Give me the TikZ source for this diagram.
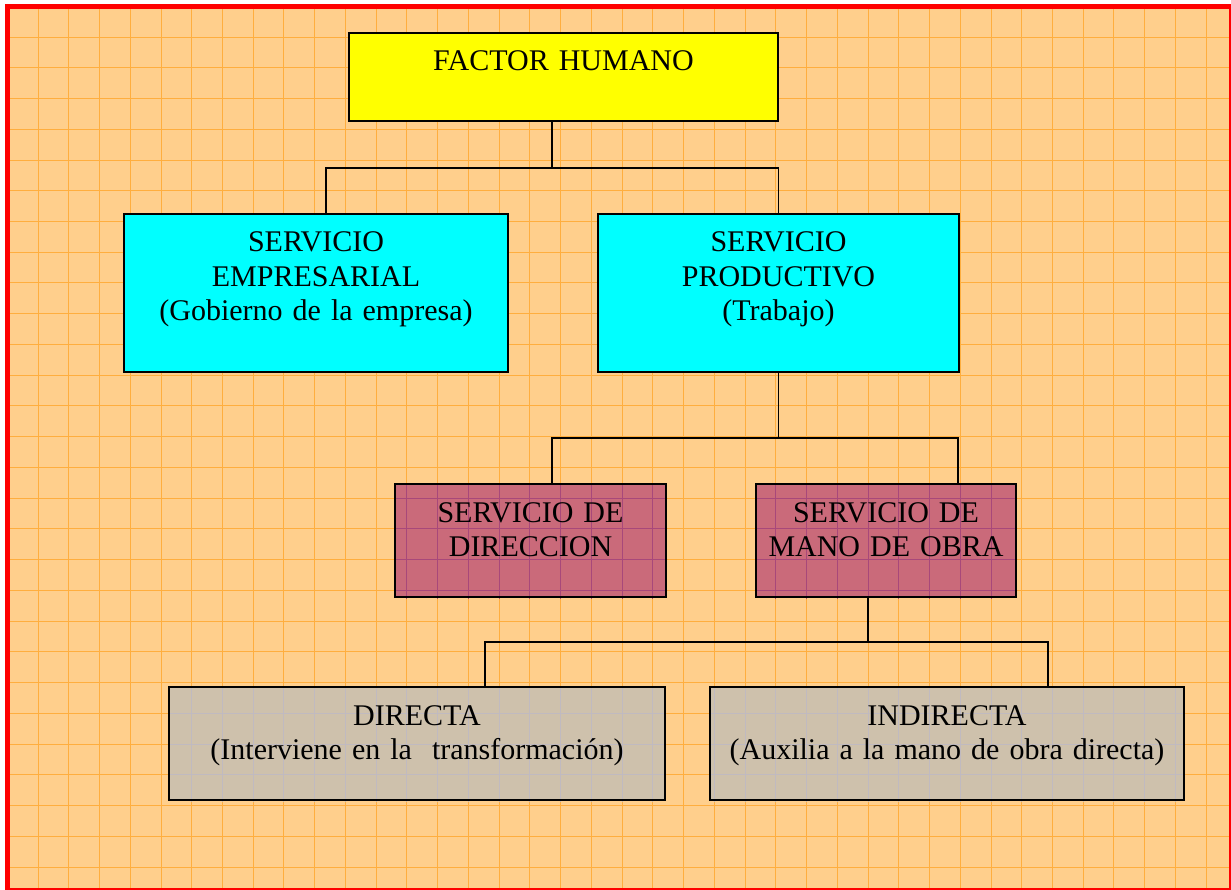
\documentclass[tikz,border=0pt]{standalone}
\usepackage{fontspec}
\setmainfont{Liberation Serif}
\usepackage{tikz}
\usetikzlibrary{positioning}
\pgfdeclarelayer{papel}
\pgfdeclarelayer{tinte}
\pgfsetlayers{papel,tinte,main}
\definecolor{fondo}{RGB}{255,207,140}
\definecolor{rejilla}{RGB}{255,174,62}
\definecolor{amarillo}{RGB}{255,255,0}
\definecolor{celeste}{RGB}{0,255,255}
\definecolor{rosado}{RGB}{202,106,122}
\definecolor{rejillarosa}{RGB}{168,72,122}
\definecolor{gris}{RGB}{206,193,172}
\definecolor{rejillagris}{RGB}{192,186,192}
% cuadricula del papel
\newcommand{\cuadricula}[1]{%
  \foreach \i in {0,...,38} \draw[#1, line width=0.9pt] ({38+\i*30.74},7) -- ({38+\i*30.74},890);
  \foreach \j in {0,...,27} \draw[#1, line width=0.9pt] (8,{37+\j*30.74}) -- (1231,{37+\j*30.74});
}
% relleno con cuadricula propia, debajo del texto
\newcommand{\rejillacaja}[3]{%
  \fill[#2] (#1.south west) rectangle (#1.north east);
  \begin{scope}
    \clip (#1.south west) rectangle (#1.north east);
    \cuadricula{#3}
  \end{scope}
}
\tikzstyle{caja} = [rectangle, 
draw=black, 
line width=2pt, 
inner sep=0pt, 
align=center, 
text height=38pt, 
font=\fontsize{30}{34.5}\selectfont]
\tikzstyle{titulo} = [caja, fill=amarillo, text depth=50pt]
\tikzstyle{servicio} = [caja, fill=celeste, text depth=120pt]
\tikzstyle{subservicio} = [caja, text depth=75pt]
\tikzstyle{manoobra} = [caja, text depth=75pt]
\tikzstyle{linea} = [line width=1.3pt, draw=black]

\begin{document}
\begin{tikzpicture}[x=1pt, y=-1pt]

    \useasboundingbox (0,0) rectangle (1231,890);
    \begin{pgfonlayer}{papel}
      \fill[fondo] (8,7) rectangle (1231,890);
      \cuadricula{rejilla}
      \draw[red, line width=5.5pt] (7.7,6.7) rectangle (1232,891);
    \end{pgfonlayer}

    \node (fh) [titulo, text width=429pt, anchor=north west] at (348,32) {FACTOR HUMANO};

    \node (se) [servicio, text width=384pt, anchor=north west] at (123,213) {SERVICIO\\EMPRESARIAL\\(Gobierno de la empresa)};
    \node (sp) [servicio, text width=361pt, anchor=north west] at (597,213) {SERVICIO\\PRODUCTIVO\\(Trabajo)};

    \node (dir) [subservicio, text width=271pt, anchor=north west] at (394,483) {SERVICIO DE\\DIRECCION};
    \node (mo) [subservicio, text width=260pt, anchor=north west] at (755,483) {SERVICIO DE\\MANO DE OBRA};

    \node (di) [manoobra, text width=496pt, anchor=north west] at (168,686) {DIRECTA\\(Interviene en la~ transformación)};
    \node (in) [manoobra, text width=474pt, anchor=north west] at (709,686) {INDIRECTA\\(Auxilia a la mano de obra directa)};

    \begin{pgfonlayer}{tinte}
      \rejillacaja{dir}{rosado}{rejillarosa}
      \rejillacaja{mo}{rosado}{rejillarosa}
      \rejillacaja{di}{gris}{rejillagris}
      \rejillacaja{in}{gris}{rejillagris}
    \end{pgfonlayer}

    % puntos de las ramas
    \coordinate (r1) at (552,168);
    \coordinate (r1i) at (326,168);
    \coordinate (r2i) at (552,438);
    \coordinate (r2d) at (958,438);
    \coordinate (r3) at (868,642);
    \coordinate (r3i) at (485,642);
    \coordinate (r3d) at (1048,642);

    \draw [linea] (fh.south -| r1) -- (r1);
    \draw [linea] (se.north -| r1i) |- (r1) -| (sp.north);
    \draw [linea] (sp.south) -- (sp.south |- r2i);
    \draw [linea] (dir.north -| r2i) -- (r2i) -- (r2d) -- (mo.north -| r2d);
    \draw [linea] (mo.south -| r3) -- (r3);
    \draw [linea] (di.north -| r3i) -- (r3i) -- (r3d) -- (in.north -| r3d);

\end{tikzpicture}
\end{document}
